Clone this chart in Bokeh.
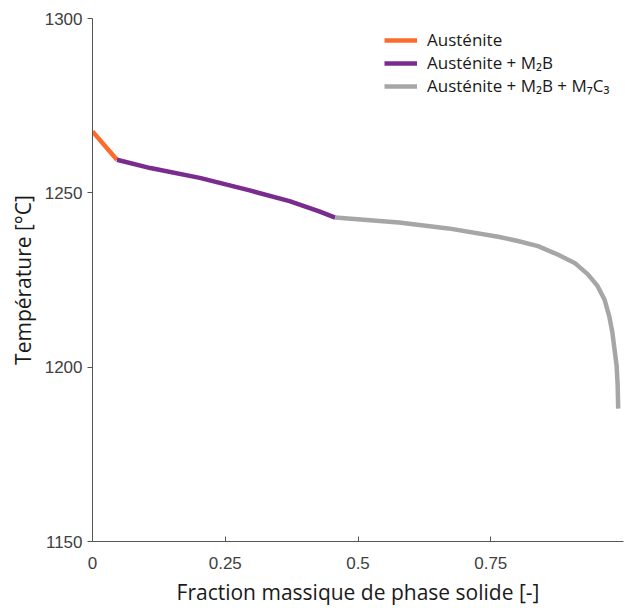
from bokeh.plotting import figure
from bokeh.models import FixedTicker, Legend, LegendItem
from bokeh.embed import file_html
from bokeh.resources import INLINE

# Data
aus_x = [0.0, 0.046]
aus_t = [1267.6, 1259.5]

m2b_x = [0.046, 0.109, 0.202, 0.296, 0.371, 0.427, 0.457]
m2b_t = [1259.5, 1257.1, 1254.3, 1250.7, 1247.6, 1244.7, 1242.9]

m7c3_x = [0.457, 0.577, 0.670, 0.764, 0.801, 0.839, 0.876, 0.908, 0.933, 0.951,
          0.964, 0.973, 0.979, 0.983, 0.987, 0.989, 0.990]
m7c3_t = [1242.9, 1241.5, 1239.8, 1237.4, 1236.2, 1234.7, 1232.3, 1229.9, 1226.6, 1223.3,
          1219.5, 1214.7, 1210.0, 1205.2, 1200.5, 1194.8, 1188.1]

x_ticks = [0, 0.25, 0.5, 0.75]
x_tick_labels = {0: "0", 0.25: "0.25", 0.5: "0.5", 0.75: "0.75"}
y_ticks = [1150, 1200, 1250, 1300]

series_labels = ["Austénite", "Austénite + M₂B", "Austénite + M₂B + M₇C₃"]
colors = ["#FA6B2C", "#7A2C8E", "#A6A6A6"]

p = figure(width=624, height=608, output_backend="svg", toolbar_location=None,
           x_range=(0, 1), y_range=(1150, 1300),
           min_border_left=92, min_border_top=18, min_border_right=1, min_border_bottom=65)
p.outline_line_color = None
p.grid.visible = False
p.background_fill_color = "white"
p.border_fill_color = "white"

r1 = p.line(aus_x, aus_t, line_color=colors[0], line_width=4.5, line_join="round")
r2 = p.line(m2b_x, m2b_t, line_color=colors[1], line_width=4.5, line_join="round")
r3 = p.line(m7c3_x, m7c3_t, line_color=colors[2], line_width=4.5, line_join="round")

# axes styling
xa = p.xaxis[0]
xa.ticker = FixedTicker(ticks=x_ticks)
xa.major_label_overrides = x_tick_labels
xa.major_tick_in = 5
xa.major_tick_out = 0
xa.minor_tick_line_color = None
xa.axis_line_color = "#555555"
xa.major_tick_line_color = "#555555"
xa.major_label_text_font = "Liberation Sans"
xa.major_label_text_font_size = "17px"
xa.major_label_text_color = "#404040"
xa.major_label_standoff = 15
xa.axis_label = "Fraction massique de phase solide [-]"
xa.axis_label_text_font = "Open Sans"
xa.axis_label_text_font_size = "21px"
xa.axis_label_text_font_style = "normal"
xa.axis_label_text_color = "#1a1a1a"
xa.axis_label_standoff = 6

ya = p.yaxis[0]
ya.ticker = FixedTicker(ticks=y_ticks)
ya.major_tick_in = 0
ya.major_tick_out = 5
ya.minor_tick_line_color = None
ya.axis_line_color = "#555555"
ya.major_tick_line_color = "#555555"
ya.major_label_text_font = "Liberation Sans"
ya.major_label_text_font_size = "17px"
ya.major_label_text_color = "#404040"
ya.major_label_standoff = 5
ya.axis_label = "Température [°C]"
ya.axis_label_text_font = "Open Sans"
ya.axis_label_text_font_size = "21px"
ya.axis_label_text_font_style = "normal"
ya.axis_label_text_color = "#1a1a1a"
ya.axis_label_standoff = 5

legend = Legend(items=[LegendItem(label=series_labels[0], renderers=[r1]),
                       LegendItem(label=series_labels[1], renderers=[r2]),
                       LegendItem(label=series_labels[2], renderers=[r3])],
                location=(292, 444))
legend.border_line_color = None
legend.background_fill_alpha = 0
legend.padding = 0
legend.margin = 0
legend.spacing = -1
legend.glyph_width = 33
legend.glyph_height = 18
legend.label_height = 18
legend.label_standoff = 10
legend.label_text_font = "Open Sans"
legend.label_text_font_size = "17px"
legend.label_text_color = "#1a1a1a"
p.add_layout(legend, "center")

open("out.html", "w").write(file_html(p, INLINE))
